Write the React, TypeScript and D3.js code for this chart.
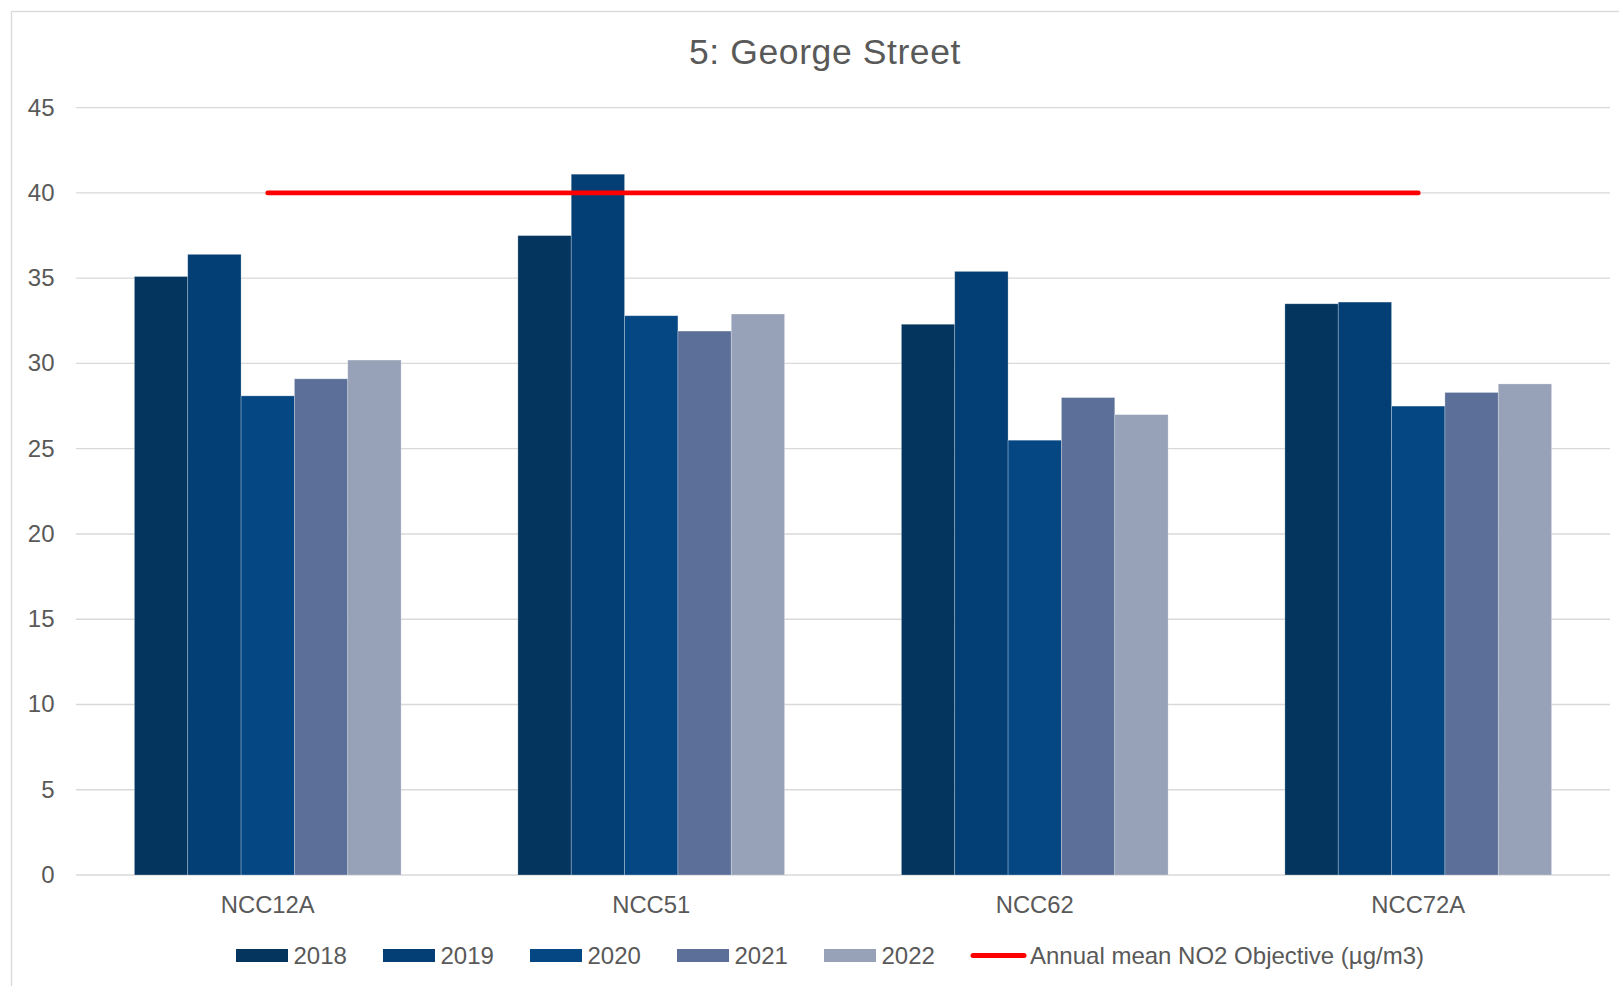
import React from "react";
import * as d3 from "d3";

const categories = ["NCC12A", "NCC51", "NCC62", "NCC72A"];
const years = ["2018", "2019", "2020", "2021", "2022"];
const values2018 = [35.1, 37.5, 32.3, 33.5];
const values2019 = [36.4, 41.1, 35.4, 33.6];
const values2020 = [28.1, 32.8, 25.5, 27.5];
const values2021 = [29.1, 31.9, 28.0, 28.3];
const values2022 = [30.2, 32.9, 27.0, 28.8];
const objectiveValue = 40;
const yTicks = [0, 5, 10, 15, 20, 25, 30, 35, 40, 45];
const title = "5: George Street";
const objectiveLabel = "Annual mean NO2 Objective (µg/m3)";

const colors = ["#03355f", "#033f74", "#054783", "#5b6f98", "#97a1b7"];
const seriesValues = [values2018, values2019, values2020, values2021, values2022];

const W = 1619;
const H = 986;
const FONT = "'Liberation Sans', Arial, sans-serif";
const TXT = "#595959";

export default function App() {
  const plotLeft = 76;
  const plotRight = 1610;
  const y = d3.scaleLinear().domain([0, 45]).range([875, 107.7]);
  const x0 = d3.scaleBand<string>().domain(categories).range([plotLeft, plotRight]).padding(0);
  const step = x0.step();
  const groupW = step * 0.6955;
  const groupOff = (step - groupW) / 2;
  const x1 = d3.scaleBand<string>().domain(years).range([0, groupW]).padding(0);

  const lineGen = d3
    .line<string>()
    .x((c) => (x0(c) as number) + step / 2)
    .y(() => y(objectiveValue));
  const objPath = lineGen([categories[0], categories[categories.length - 1]]) || "";

  const legendStart = 236;
  const legendStep = 147;
  const swW = 52;

  return (
    <svg
      width={W}
      height={H}
      style={{ position: "fixed", left: 0, top: 0, background: "#fff" }}
      fontFamily={FONT}
    >
      <rect x={0} y={0} width={W} height={H} fill="#ffffff" />
      <rect x={11.5} y={11.5} width={W + 20} height={H + 20} fill="none" stroke="#d9d9d9" strokeWidth={1.3} />
      <text x={825} y={64} textAnchor="middle" fontSize={35.5} fill={TXT} letterSpacing={0.6}>
        {title}
      </text>
      {yTicks.map((t) => (
        <g key={t}>
          <line x1={plotLeft} x2={plotRight} y1={y(t)} y2={y(t)} stroke="#d9d9d9" strokeWidth={1.3} />
          <text x={54.5} y={y(t) + 8} textAnchor="end" fontSize={24} fill={TXT}>
            {t}
          </text>
        </g>
      ))}
      {categories.map((c, ci) => (
        <g key={c}>
          {years.map((yr, si) => {
            const v = seriesValues[si][ci];
            const bx = (x0(c) as number) + groupOff + (x1(yr) as number);
            return (
              <rect
                key={yr}
                x={bx}
                y={y(v)}
                width={x1.bandwidth()}
                height={y(0) - y(v)}
                fill={colors[si]}
                stroke="#ffffff"
                strokeOpacity={0.35}
                strokeWidth={0.75}
              />
            );
          })}
          <text x={(x0(c) as number) + step / 2} y={912.5} textAnchor="middle" fontSize={23.8} fill={TXT}>
            {c}
          </text>
        </g>
      ))}
      <path d={objPath} stroke="#ff0000" strokeWidth={4.8} strokeLinecap="round" fill="none" />
      {years.map((yr, i) => {
        const lx = legendStart + i * legendStep;
        return (
          <g key={yr}>
            <rect x={lx} y={949} width={swW} height={13} fill={colors[i]} />
            <text x={lx + swW + 5.5} y={963.5} fontSize={24} fill={TXT}>
              {yr}
            </text>
          </g>
        );
      })}
      <g>
        <line
          x1={legendStart + 5 * legendStep + 2}
          x2={legendStart + 5 * legendStep + 53}
          y1={955.5}
          y2={955.5}
          stroke="#ff0000"
          strokeWidth={5}
          strokeLinecap="round"
        />
        <text x={legendStart + 5 * legendStep + 59} y={963.5} fontSize={24} fill={TXT}>
          {objectiveLabel}
        </text>
      </g>
    </svg>
  );
}
